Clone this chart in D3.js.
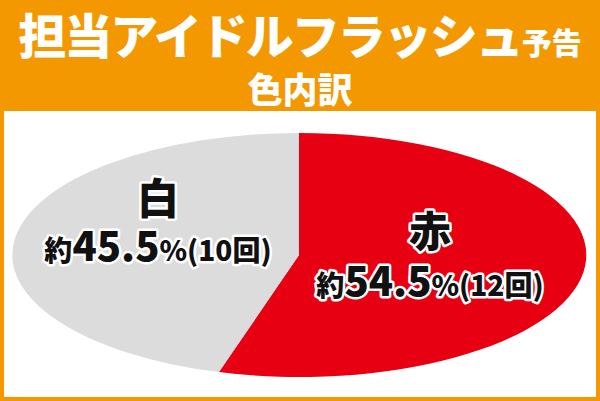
<!DOCTYPE html>
<html><head><meta charset="utf-8">
<script src="https://cdn.jsdelivr.net/npm/d3@7"></script>
<style>body{margin:0;}svg{display:block;font-family:"Noto Sans CJK JP",sans-serif;font-weight:900;}</style>
</head><body><svg id="c" width="600" height="401"></svg>
<script>
const categories = ["赤", "白"];
const percents = [54.5, 45.5];
const counts = [12, 10];
const colors = ["#e60012", "#dcdcdc"];
const titleLines = ["担当アイドルフラッシュ", "色内訳"];

const svg = d3.select("#c");
svg.append("rect").attr("width", 600).attr("height", 401).attr("fill", "#f39800");
svg.append("rect").attr("x", 4).attr("y", 111).attr("width", 592).attr("height", 286).attr("fill", "#fff");

const t1 = svg.append("text").attr("x", 300).attr("y", 54).attr("text-anchor", "middle").attr("fill", "#fff");
t1.append("tspan").attr("font-size", 48).attr("letter-spacing", -2).text(titleLines[0]);
t1.append("tspan").attr("font-size", 30).text("予告");
svg.append("text").attr("x", 300).attr("y", 103).attr("text-anchor", "middle").attr("fill", "#fff")
  .attr("font-size", 35).text(titleLines[1]);

const cx = 299, cy = 255, rx = 287, ry = 122;
const pie = d3.pie().sort(null).value(d => d)(percents);
const arc = d3.arc().innerRadius(0).outerRadius(1);
const g = svg.append("g").attr("transform", `translate(${cx},${cy}) scale(${rx},${ry})`);
g.selectAll("path").data(pie).join("path").attr("d", arc).attr("fill", (d, i) => colors[i]);

const labelPos = [[430, 247, 296], [158, 214, 261]];
categories.forEach((c, i) => {
  const [x, y1, y2] = labelPos[i];
  const ol = s => s.attr("fill", "#111").attr("stroke", "#fff").attr("stroke-width", 5)
    .attr("stroke-linejoin", "round").attr("paint-order", "stroke").attr("text-anchor", "middle");
  ol(svg.append("text").attr("x", x).attr("y", y1).attr("font-size", 42).text(c));
  const t = ol(svg.append("text").attr("x", x).attr("y", y2));
  t.append("tspan").attr("font-size", 28).text("約");
  t.append("tspan").attr("font-size", 40).text(percents[i]);
  t.append("tspan").attr("font-size", 28).text("%(" + counts[i] + "回)");
});
</script></body></html>
